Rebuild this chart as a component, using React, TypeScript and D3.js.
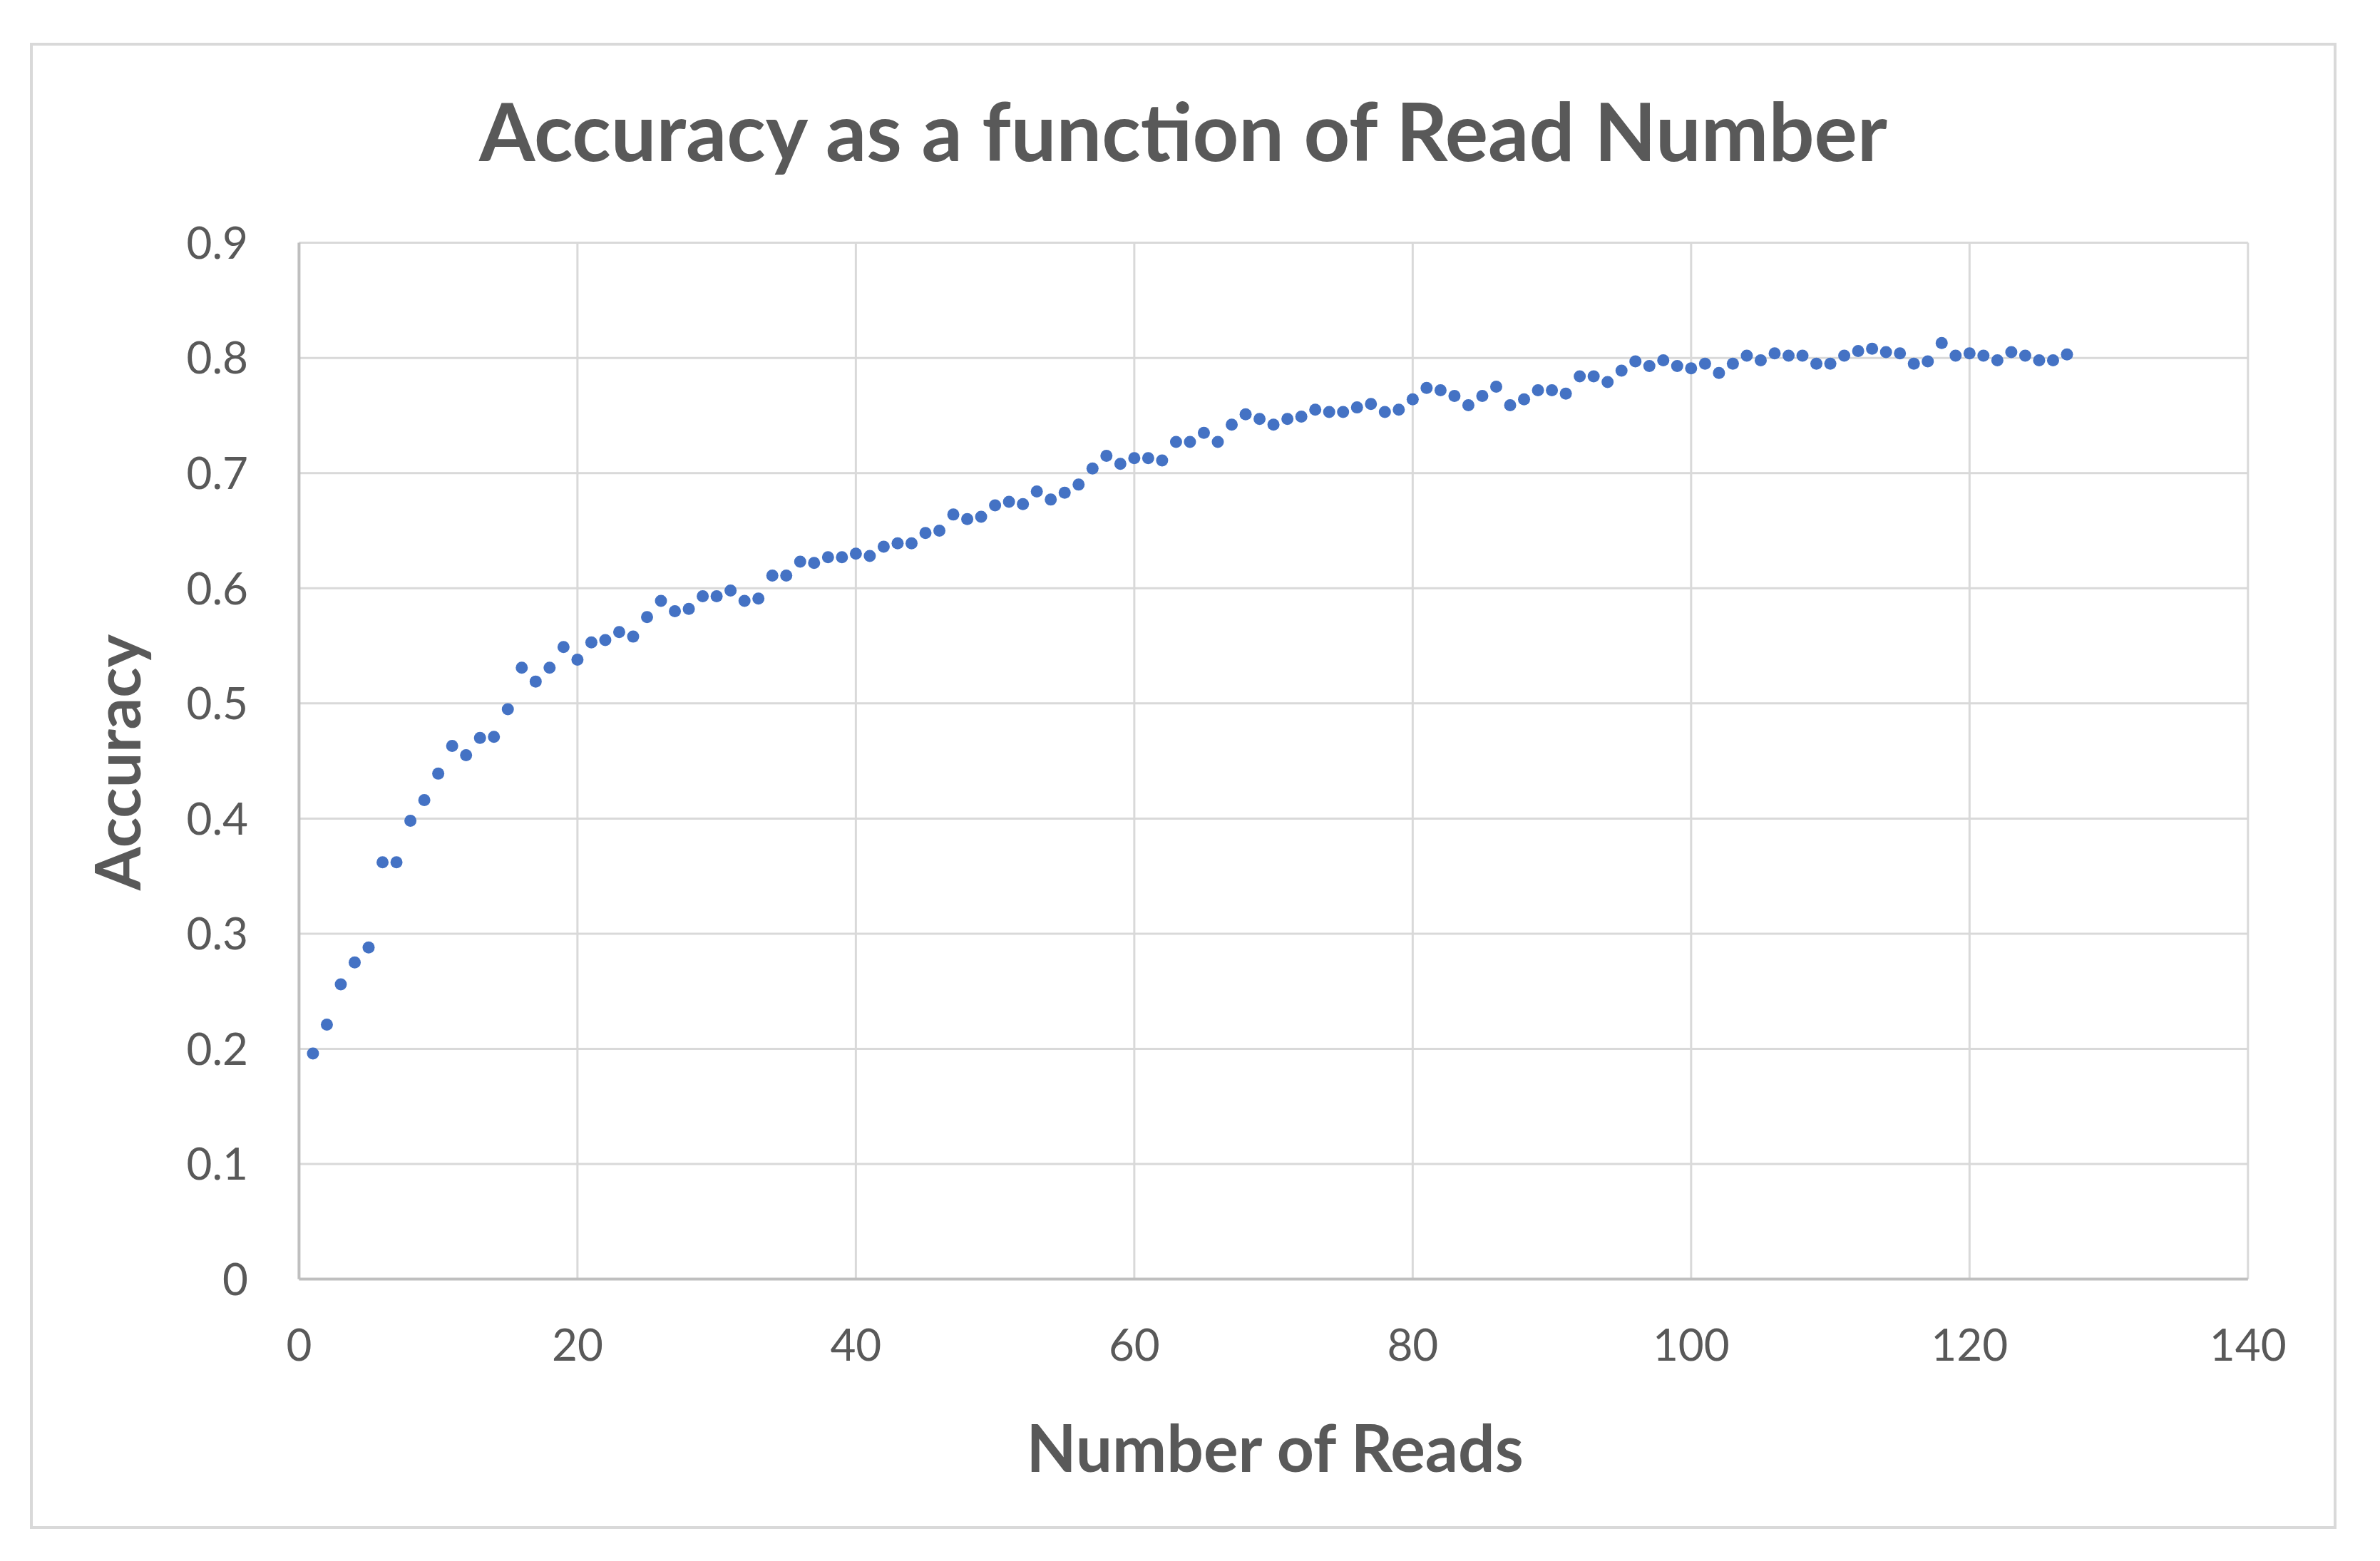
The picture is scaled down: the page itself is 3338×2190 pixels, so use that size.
import React from "react";
import * as d3 from "d3";

const reads: number[] = [
  1, 2, 3, 4, 5, 6, 7, 8, 9, 10, 11, 12, 13, 14, 15, 16, 17, 18, 19, 20,
  21, 22, 23, 24, 25, 26, 27, 28, 29, 30, 31, 32, 33, 34, 35, 36, 37, 38, 39, 40,
  41, 42, 43, 44, 45, 46, 47, 48, 49, 50, 51, 52, 53, 54, 55, 56, 57, 58, 59, 60,
  61, 62, 63, 64, 65, 66, 67, 68, 69, 70, 71, 72, 73, 74, 75, 76, 77, 78, 79, 80,
  81, 82, 83, 84, 85, 86, 87, 88, 89, 90, 91, 92, 93, 94, 95, 96, 97, 98, 99, 100,
  101, 102, 103, 104, 105, 106, 107, 108, 109, 110, 111, 112, 113, 114, 115, 116, 117, 118, 119, 120,
  121, 122, 123, 124, 125, 126, 127,
];

const accuracy: number[] = [
  0.196, 0.221, 0.256, 0.275, 0.288, 0.362, 0.362, 0.398, 0.416, 0.439,
  0.463, 0.455, 0.47, 0.471, 0.495, 0.531, 0.519, 0.531, 0.549, 0.538,
  0.553, 0.555, 0.562, 0.558, 0.575, 0.589, 0.58, 0.582, 0.593, 0.593,
  0.598, 0.589, 0.591, 0.611, 0.611, 0.623, 0.622, 0.627, 0.627, 0.63,
  0.628, 0.636, 0.639, 0.639, 0.648, 0.65, 0.664, 0.66, 0.662, 0.672,
  0.675, 0.673, 0.684, 0.677, 0.683, 0.69, 0.704, 0.715, 0.708, 0.713,
  0.713, 0.711, 0.727, 0.727, 0.735, 0.727, 0.742, 0.751, 0.747, 0.742,
  0.747, 0.749, 0.755, 0.753, 0.753, 0.757, 0.76, 0.753, 0.755, 0.764,
  0.774, 0.772, 0.767, 0.759, 0.767, 0.775, 0.759, 0.764, 0.772, 0.772,
  0.769, 0.784, 0.784, 0.779, 0.789, 0.797, 0.793, 0.798, 0.793, 0.791,
  0.795, 0.787, 0.795, 0.802, 0.798, 0.804, 0.802, 0.802, 0.795, 0.795,
  0.802, 0.806, 0.808, 0.805, 0.804, 0.795, 0.797, 0.813, 0.802, 0.804,
  0.802, 0.798, 0.805, 0.802, 0.798, 0.798, 0.803,
];

const xTicks: number[] = [0, 20, 40, 60, 80, 100, 120, 140];
const yTicks: number[] = [0, 0.1, 0.2, 0.3, 0.4, 0.5, 0.6, 0.7, 0.8, 0.9];

const titleText = "Accuracy as a function of Read Number";
const xTitle = "Number of Reads";
const yTitle = "Accuracy";

const W = 3338;
const H = 2190;
const box = { x: 44, y: 62, w: 3231, h: 2081 };
const plot = { left: 419.4, right: 3152.8, top: 340.6, bottom: 1794.6 };
const FONT = "Lato, 'Open Sans', sans-serif";
const TEXT = "#595959";
const GRID = "#d9d9d9";
const AXIS = "#bfbfbf";
const DOT = "#4472C4";

export default function App() {
  const x = d3.scaleLinear().domain([0, 140]).range([plot.left, plot.right]);
  const y = d3.scaleLinear().domain([0, 0.9]).range([plot.bottom, plot.top]);
  const points = reads.map((r, i) => ({ r, a: accuracy[i] }));
  const fmtY = (v: number) => (v === 0 ? "0" : d3.format(".1f")(v));

  return (
    <svg
      width={W}
      height={H}
      viewBox={`0 0 ${W} ${H}`}
      style={{ position: "absolute", left: 0, top: 0, display: "block", background: "#fff" }}
    >
      <rect x={0} y={0} width={W} height={H} fill="#fff" />
      <rect x={box.x} y={box.y} width={box.w} height={box.h} fill="#fff" stroke={GRID} strokeWidth={4} />

      <text
        x={box.x + box.w / 2}
        y={226}
        textAnchor="middle"
        fontFamily={FONT}
        fontWeight={700}
        fontSize={113}
        fill={TEXT}
      >
        {titleText}
      </text>

      {/* horizontal gridlines */}
      {yTicks.filter((t) => t !== 0).map((t) => (
        <line key={"hy" + t} x1={plot.left} x2={plot.right} y1={y(t)} y2={y(t)} stroke={GRID} strokeWidth={3} />
      ))}
      {/* vertical gridlines */}
      {xTicks.filter((t) => t !== 0).map((t) => (
        <line key={"vx" + t} x1={x(t)} x2={x(t)} y1={plot.top} y2={plot.bottom} stroke={GRID} strokeWidth={3} />
      ))}
      {/* axes */}
      <line x1={x(0)} x2={x(0)} y1={plot.top} y2={plot.bottom} stroke={AXIS} strokeWidth={4} />
      <line x1={plot.left} x2={plot.right} y1={y(0)} y2={y(0)} stroke={AXIS} strokeWidth={4} />

      {/* y tick labels */}
      {yTicks.map((t) => (
        <text
          key={"yl" + t}
          x={348}
          y={y(t)}
          dy="0.36em"
          textAnchor="end"
          fontFamily={FONT}
          fontSize={62}
          fill={TEXT}
        >
          {fmtY(t)}
        </text>
      ))}
      {/* x tick labels */}
      {xTicks.map((t) => (
        <text
          key={"xl" + t}
          x={x(t)}
          y={1909}
          textAnchor="middle"
          fontFamily={FONT}
          fontSize={62}
          fill={TEXT}
        >
          {t}
        </text>
      ))}

      {/* axis titles */}
      <text
        x={(plot.left + plot.right) / 2 + 2}
        y={2065}
        textAnchor="middle"
        fontFamily={FONT}
        fontWeight={700}
        fontSize={91}
        fill={TEXT}
      >
        {xTitle}
      </text>
      <text
        transform={`translate(197, ${(plot.top + plot.bottom) / 2 + 2}) rotate(-90)`}
        textAnchor="middle"
        fontFamily={FONT}
        fontWeight={700}
        fontSize={88}
        fill={TEXT}
      >
        {yTitle}
      </text>

      {/* data points */}
      {points.map((p) => (
        <circle key={"p" + p.r} cx={x(p.r)} cy={y(p.a)} r={8.5} fill={DOT} />
      ))}
    </svg>
  );
}
